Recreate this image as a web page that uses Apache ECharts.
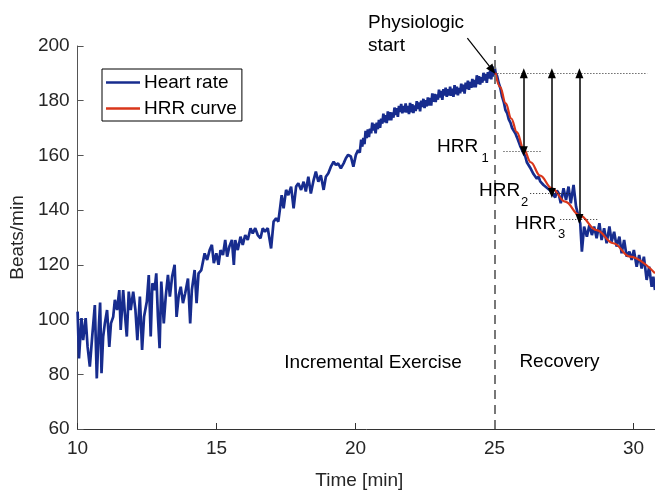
<!DOCTYPE html>
<html><head><meta charset="utf-8">
<script src="https://cdn.jsdelivr.net/npm/echarts@6/dist/echarts.min.js"></script>
<style>html,body{margin:0;padding:0;background:#fff}#c{width:655px;height:497px}</style>
</head><body><div id="c"></div>
<script>
// ---------- data ----------
const hrTime = [
10.00,10.05,10.14,10.20,10.29,10.36,10.44,10.53,10.62,10.69,10.77,10.81,10.86,10.92,10.98,11.06,11.14,11.20,11.28,11.34,
11.42,11.50,11.55,11.64,11.70,11.77,11.84,11.91,12.00,12.08,12.15,12.24,12.32,12.39,12.49,12.56,12.63,12.69,12.77,12.83,
12.89,12.95,13.01,13.10,13.17,13.25,13.32,13.40,13.49,13.56,13.64,13.71,13.79,13.87,13.97,14.05,14.11,14.21,14.28,14.35,
14.45,14.57,14.66,14.75,14.83,14.90,14.99,15.07,15.14,15.23,15.31,15.38,15.46,15.55,15.62,15.67,15.76,15.86,15.94,16.03,
16.12,16.22,16.30,16.39,16.48,16.58,16.66,16.74,16.84,16.96,17.05,17.14,17.22,17.29,17.34,17.41,17.50,17.58,17.68,17.77,
17.86,17.94,18.04,18.13,18.21,18.30,18.39,18.49,18.57,18.66,18.75,18.85,18.93,19.02,19.11,19.21,19.29,19.37,19.47,19.57,
19.65,19.73,19.83,19.92,20.01,20.09,20.15,
20.20,20.24,20.28,20.32,20.36,20.40,20.44,20.48,20.52,20.56,20.60,20.64,20.68,20.72,20.76,20.80,20.84,20.88,20.92,20.96,
21.00,21.04,21.08,21.12,21.16,21.20,21.24,21.28,21.32,21.36,21.40,21.44,21.48,21.52,21.56,21.60,21.64,21.68,21.72,21.76,
21.80,21.84,21.88,21.92,21.96,22.00,22.04,22.08,22.12,22.16,22.20,22.24,22.28,22.32,22.36,22.40,22.44,22.48,22.52,22.56,
22.60,22.64,22.68,22.72,22.76,22.80,22.84,22.88,22.92,22.96,23.00,23.04,23.08,23.12,23.16,23.20,23.24,23.28,23.32,23.36,
23.40,23.44,23.48,23.52,23.56,23.60,23.64,23.68,23.72,23.76,23.80,23.84,23.88,23.92,23.96,24.00,24.04,24.08,24.12,24.16,
24.20,24.24,24.28,24.32,24.36,24.40,24.44,24.48,24.52,24.56,24.60,24.64,24.68,24.72,24.76,24.80,24.84,24.88,24.92,24.96,
25.00,25.04,
25.09,25.15,25.21,25.27,25.33,25.39,25.45,25.51,25.57,25.63,25.69,
25.75,25.81,25.86,25.92,25.98,26.04,26.10,26.16,26.22,26.28,26.34,26.40,26.46,26.52,26.58,26.64,26.70,26.76,26.82,26.88,
26.94,27.00,27.06,27.12,27.18,27.24,27.30,27.38,27.48,27.57,27.66,27.74,27.84,27.93,28.02,28.08,28.14,28.22,28.32,28.41,
28.50,28.58,28.67,28.77,28.85,28.94,29.03,29.13,29.21,29.30,29.39,29.49,29.57,29.66,29.75,29.85,29.93,30.01,30.11,30.20,
30.29,30.37,30.47,30.56,30.65,30.71,30.77
];
const hrValues = [
102.9,85.8,100.5,92.5,100.5,90.0,82.8,94.4,105.3,78.5,98.6,106.2,80.4,93.8,98.6,103.5,90.0,98.6,101.0,107.2,
103.5,110.8,96.2,110.8,102.3,93.8,110.2,103.5,110.2,103.5,92.5,108.4,88.9,101.0,106.6,116.3,93.8,113.3,110.8,116.9,
101.0,89.5,113.9,98.6,108.4,116.3,108.4,115.7,120.0,101.0,109.0,112.0,106.0,109.6,115.0,98.6,110.8,118.1,106.0,116.9,
118.1,124.2,121.8,125.4,127.3,120.6,124.2,120.0,125.4,123.6,129.1,123.0,126.7,129.1,120.0,129.1,125.4,130.3,127.3,130.9,
129.1,133.4,131.5,133.4,130.9,129.7,133.4,132.1,133.4,126.0,135.8,137.0,135.8,141.3,145.5,140.7,147.4,145.5,148.6,140.7,
148.6,149.8,147.4,150.4,146.8,152.2,146.1,151.0,154.1,150.4,152.8,147.4,152.2,153.5,155.9,157.7,156.5,157.1,155.3,157.1,
159.0,160.2,159.6,155.9,160.2,162.0,161.0,
165.8,163.2,166.4,164.1,169.0,166.3,169.5,166.7,169.8,168.1,172.0,169.1,171.5,168.1,172.0,169.6,173.0,170.1,173.4,171.6,
175.3,172.1,174.7,171.8,176.1,172.8,175.8,172.8,175.7,173.8,177.5,174.8,177.3,174.1,178.1,175.9,178.8,175.4,178.1,175.8,
179.0,175.7,178.1,175.1,179.2,175.8,178.7,175.5,178.3,176.2,179.8,177.0,179.4,176.1,180.0,177.7,180.7,177.3,180.2,177.9,
181.2,178.2,181.0,178.2,182.7,179.6,182.5,179.5,182.3,180.4,184.0,181.2,183.6,180.3,184.2,181.9,184.8,181.4,184.2,181.9,
185.1,181.8,184.4,181.4,185.7,182.3,185.1,182.0,184.7,182.7,186.2,183.4,185.9,182.6,186.6,184.3,187.3,184.0,186.9,184.7,
188.0,184.9,187.6,184.9,189.3,186.1,189.0,185.9,188.6,186.6,190.2,187.4,189.8,186.5,190.4,188.1,191.1,187.8,192.1,188.8,
192.5,190.0,
189.0,186.4,184.5,181.5,179.5,176.6,175.5,173.2,172.0,170.0,169.5,
168.0,166.5,165.8,163.5,162.8,160.8,159.8,157.5,156.8,155.5,154.8,153.2,153.0,151.5,152.3,150.5,150.7,149.2,149.6,148.2,
148.8,147.2,147.0,145.5,144.6,147.2,146.3,142.5,148.0,143.7,148.6,142.5,149.2,141.3,137.6,135.2,124.8,134.0,130.3,134.6,
130.9,134.0,129.7,135.2,129.1,133.4,127.9,134.0,128.5,132.1,126.7,130.3,124.2,129.1,123.0,124.8,121.8,125.4,119.3,123.6,
118.7,123.0,114.5,119.3,112.0,115.7,110.8
];
const fitTime   = [25.03,25.20,25.40,25.60,25.80,26.04,26.30,26.64,27.06,27.54,28.05,28.67,29.27,29.87,30.77];
const fitValues = [190.2,185.0,179.0,173.5,168.5,162.5,157.5,152.6,148.0,143.1,138.2,132.7,127.9,123.0,116.9];

const xTicks = [10, 15, 20, 25, 30];
const yTicks = [60, 80, 100, 120, 140, 160, 180, 200];
const seriesNames = ['Heart rate', 'HRR curve'];

const exerciseEnd = 25;          // dashed separator
const hrrPeak = 190;             // peak HR used for HRR
const hrrTimes = [26.05, 27.06, 28.05];
const hrrValues = [161.5, 146.3, 136.8];
const hrrLineFrom = [25.32, 26.28, 27.36];
const hrrLineTo   = [26.71, 27.72, 28.72];
const peakLineFrom = 25.1, peakLineTo = 30.5;
const physArrowTail = [24.02, 202.9];
const physArrowTip  = [25.03, 189.8];

// ---------- chart ----------
const FONT = 'Liberation Sans, Arial, Helvetica, sans-serif';
const BLUE = '#172c8e', RED = '#d9361a';
const chart = echarts.init(document.getElementById('c'), null, {renderer: 'canvas'});
const hrData = hrTime.map((t, i) => [t, hrValues[i]]);
const fitData = fitTime.map((t, i) => [t, fitValues[i]]);

const dotted = {type: [1, 2], color: '#222', width: 1};
const guideLines = [
  [{coord: [peakLineFrom, hrrPeak], symbol: 'none', lineStyle: dotted}, {coord: [peakLineTo, hrrPeak], symbol: 'none'}]
].concat(hrrValues.map((v, i) => [
  {coord: [hrrLineFrom[i], v], symbol: 'none', lineStyle: dotted}, {coord: [hrrLineTo[i], v], symbol: 'none'}
]));

const legendIcon = 'path://M0,0H34V2.6H0Z';

chart.setOption({
  animation: false,
  textStyle: {fontFamily: FONT},
  grid: {left: 76, right: 0, top: 46, bottom: 68, containLabel: false},
  legend: {
    orient: 'vertical', left: 102, top: 69,
    data: seriesNames.map(n => ({name: n, icon: legendIcon})),
    symbolKeepAspect: true,
    borderColor: '#000', borderWidth: 1, backgroundColor: '#fff',
    padding: [4, 5, 3, 4], itemWidth: 34, itemHeight: 19, itemGap: 7,
    textStyle: {fontSize: 19, color: '#000', fontFamily: FONT, lineHeight: 19, padding: [0, 0, 0, -1]},
    selectedMode: false
  },
  xAxis: {
    type: 'value', min: 10, max: 30.77, interval: 5,
    name: 'Time [min]', nameLocation: 'middle', nameGap: 42,
    nameTextStyle: {fontSize: 19, color: '#262626', fontFamily: FONT, padding: [0, 14, 0, 0]},
    axisLine: {lineStyle: {color: '#333', width: 1}},
    axisTick: {inside: true, length: 6, lineStyle: {color: '#333'}, customValues: xTicks},
    axisLabel: {fontSize: 19, color: '#262626', margin: 10, fontFamily: FONT, customValues: xTicks},
    splitLine: {show: false}
  },
  yAxis: {
    type: 'value', min: 60, max: 200, interval: 20,
    name: 'Beats/min', nameLocation: 'middle', nameGap: 36, nameRotate: 90,
    nameTextStyle: {fontSize: 19, color: '#262626', fontFamily: FONT},
    axisLine: {show: true, lineStyle: {color: '#555', width: 1}},
    axisTick: {show: true, inside: true, length: 6, lineStyle: {color: '#555'}, customValues: yTicks},
    axisLabel: {fontSize: 19, color: '#262626', margin: 8, fontFamily: FONT, customValues: yTicks},
    splitLine: {show: false}
  },
  series: [
    {
      name: seriesNames[0], type: 'line', data: hrData, symbol: 'none', z: 2,
      lineStyle: {color: BLUE, width: 2.7}, itemStyle: {color: BLUE},
      markLine: {
        silent: true, animation: false, symbol: 'none', label: {show: false},
        data: [{xAxis: exerciseEnd, lineStyle: {type: [9, 6], color: '#777', width: 2}}].concat(guideLines)
      }
    },
    {
      name: seriesNames[1], type: 'line', data: fitData, symbol: 'none', z: 3,
      smooth: 0.4, smoothMonotone: 'x',
      lineStyle: {color: RED, width: 2.2}, itemStyle: {color: RED},
      markLine: {
        silent: true, animation: false, symbol: ['triangle', 'triangle'], symbolSize: [8, 10],
        label: {show: false},
        lineStyle: {type: 'solid', color: '#000', width: 1.5},
        itemStyle: {color: '#000'},
        data: hrrTimes.map((t, i) => [{coord: [t, hrrPeak]}, {coord: [t, hrrValues[i]]}])
      }
    }
  ]
});

// ---------- annotations ----------
const tail = chart.convertToPixel({gridIndex: 0}, physArrowTail);
const tip = chart.convertToPixel({gridIndex: 0}, physArrowTip);
const dx = tip[0] - tail[0], dy = tip[1] - tail[1];
const len = Math.sqrt(dx * dx + dy * dy);
const ux = dx / len, uy = dy / len, nx = -uy, ny = ux;
const L = 10, W = 8;
const baseX = tip[0] - ux * L, baseY = tip[1] - uy * L;

const txt = (text, x, y, size, align) => ({
  type: 'text', silent: true, z: 10,
  style: {text: text, x: x, y: y, fill: '#000', font: size + 'px ' + FONT, textAlign: align || 'left', textVerticalAlign: 'middle'}
});

chart.setOption({
  graphic: [
    {type: 'line', silent: true, z: 10, shape: {x1: tail[0], y1: tail[1], x2: baseX + ux * 2, y2: baseY + uy * 2},
     style: {stroke: '#000', lineWidth: 1.2}},
    {type: 'polygon', silent: true, z: 10,
     shape: {points: [[tip[0], tip[1]], [baseX + nx * W / 2, baseY + ny * W / 2], [baseX - nx * W / 2, baseY - ny * W / 2]]},
     style: {fill: '#000'}},
    txt('Physiologic', 368, 22.5, 19),
    txt('start', 368, 45.5, 19),
    txt('Incremental Exercise', 373, 363, 19, 'center'),
    txt('Recovery', 559.5, 361.5, 19, 'center'),
    txt('HRR', 437, 147, 19), txt('1', 481.5, 158.6, 13),
    txt('HRR', 479, 191, 19), txt('2', 521, 202.6, 13),
    txt('HRR', 515, 224, 19), txt('3', 558, 234.6, 13)
  ]
});
</script>
</body></html>
